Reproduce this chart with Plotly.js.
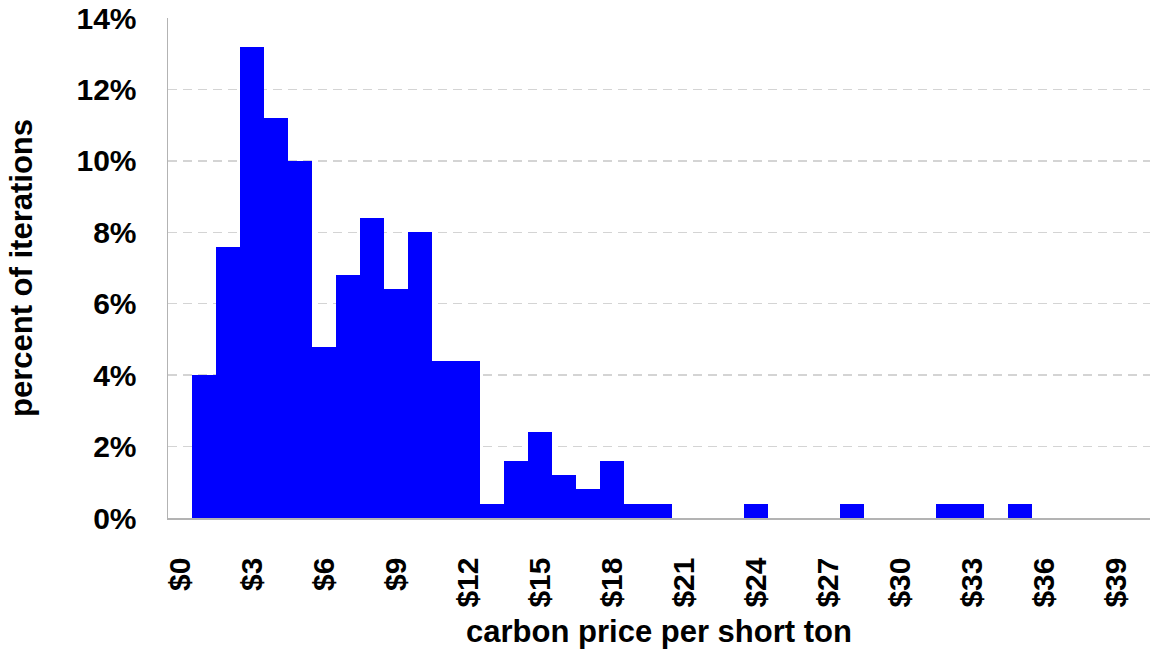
<!DOCTYPE html>
<html>
<head>
<meta charset="utf-8">
<script src="https://cdn.plot.ly/plotly-3.0.1.min.js"></script>
<style>html,body{margin:0;padding:0;background:#fff;}#chart{width:1150px;height:651px;}</style>
</head>
<body>
<div id="chart"></div>
<script>
// carbon price bins ($ per short ton), one per dollar
const prices = [0,1,2,3,4,5,6,7,8,9,10,11,12,13,14,15,16,17,18,19,20,21,22,23,24,25,26,27,28,29,30,31,32,33,34,35,36,37,38,39,40];
// percent of iterations in each bin
const percents = [0,4.0,7.6,13.2,11.2,10.0,4.8,6.8,8.4,6.4,8.0,4.4,4.4,0.4,1.6,2.4,1.2,0.8,1.6,0.4,0.4,0,0,0,0.4,0,0,0,0.4,0,0,0,0.4,0.4,0,0.4,0,0,0,0,0];
const tickValues = [0,3,6,9,12,15,18,21,24,27,30,33,36,39];
const tickLabels = ["$0","$3","$6","$9","$12","$15","$18","$21","$24","$27","$30","$33","$36","$39"];
const yTicks = [0,2,4,6,8,10,12,14];
const yLabels = ["0%","2%","4%","6%","8%","10%","12%","14%"];

const fontFamily = "Liberation Sans, Arial, sans-serif";
const axisFont = {family: fontFamily, size: 30, color: "#000", weight: "bold"};
const titleFont = {family: fontFamily, size: 31, color: "#000", weight: "bold"};

const trace = {
  type: "bar",
  x: prices,
  y: percents,
  marker: {color: "#0000ff", line: {width: 0}},
  hoverinfo: "x+y"
};

const layout = {
  width: 1150,
  height: 651,
  margin: {l: 168, r: 0, t: 18, b: 133},
  paper_bgcolor: "#fff",
  plot_bgcolor: "#fff",
  bargap: 0,
  showlegend: false,
  font: {family: fontFamily, color: "#000"},
  xaxis: {
    type: "linear",
    range: [-0.5, 40.4],
    tickmode: "array",
    tickvals: tickValues,
    ticktext: tickLabels,
    tickangle: -90,
    tickfont: axisFont,
    ticks: "outside",
    ticklen: 26,
    tickcolor: "rgba(0,0,0,0)",
    showgrid: false,
    zeroline: false,
    showline: true,
    linecolor: "#b3b3b3",
    linewidth: 1.5,
    automargin: false,
    title: {text: "carbon price per short ton", font: titleFont, standoff: 13}
  },
  yaxis: {
    range: [0, 14],
    tickmode: "array",
    tickvals: yTicks,
    ticktext: yLabels,
    tickfont: axisFont,
    ticks: "outside",
    ticklen: 24,
    tickcolor: "rgba(0,0,0,0)",
    showgrid: true,
    gridcolor: "#d4d4d4",
    gridwidth: 1.5,
    griddash: "9px,6px",
    zeroline: false,
    showline: true,
    linecolor: "#b3b3b3",
    linewidth: 1.5,
    automargin: false,
    title: {text: "percent of iterations", font: titleFont, standoff: 34}
  }
};

Plotly.newPlot("chart", [trace], layout, {displayModeBar: false, staticPlot: true});
</script>
</body>
</html>
